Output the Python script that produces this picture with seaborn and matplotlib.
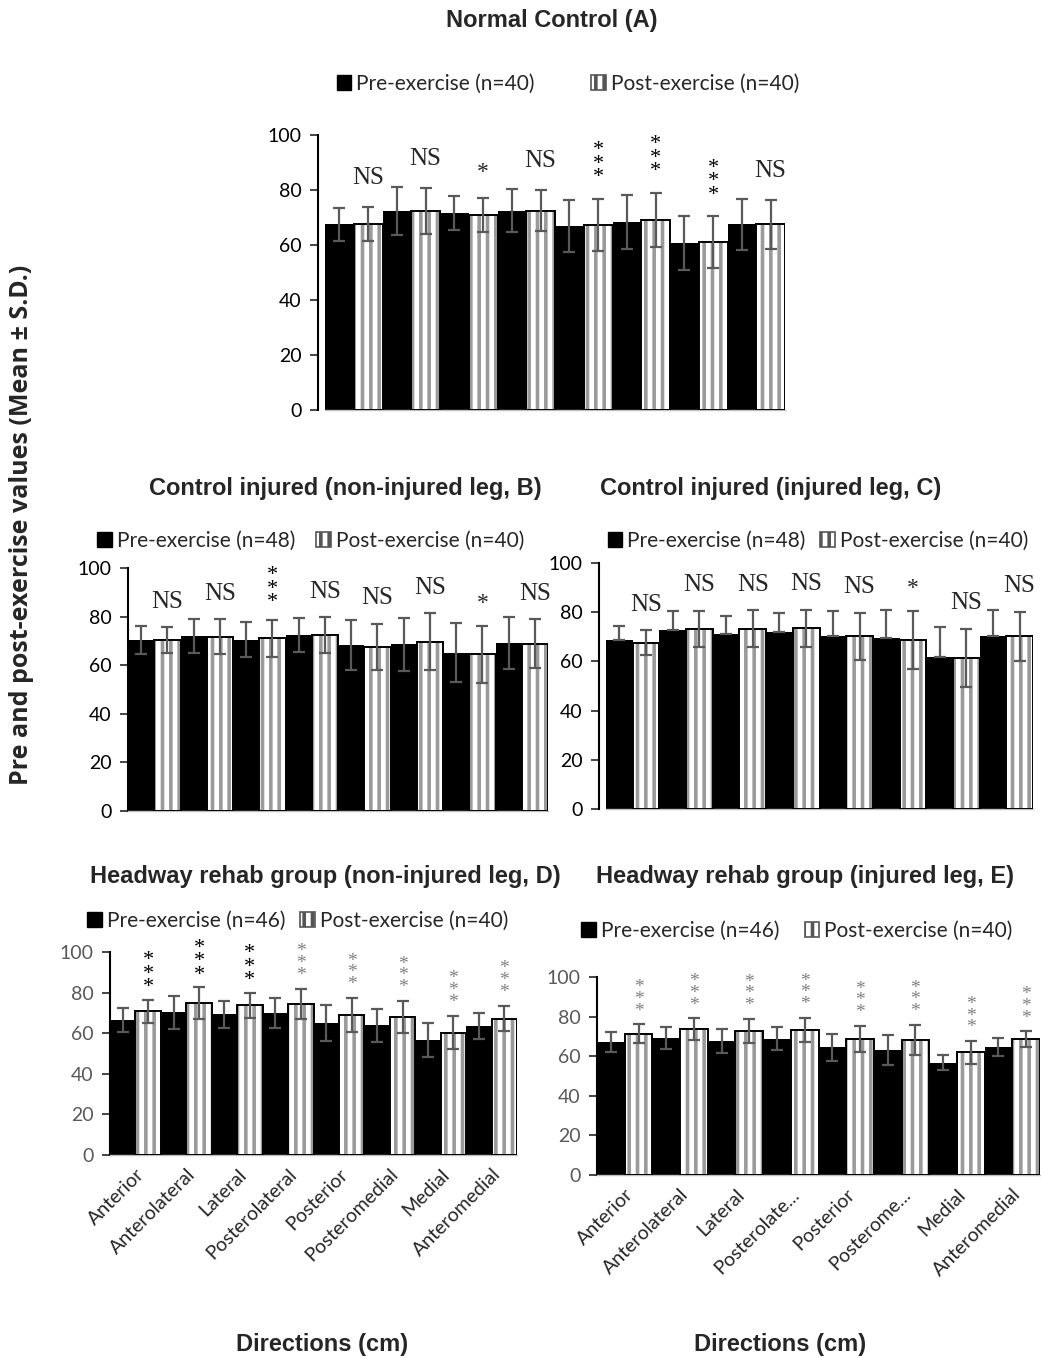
import numpy as np
import pandas as pd
import matplotlib
matplotlib.use("Agg")
import matplotlib.pyplot as plt
from matplotlib.patches import Rectangle, Patch
import seaborn as sns

sns.set_style("white")
plt.rcParams['font.family'] = ['Lato', 'DejaVu Sans']
plt.rcParams['hatch.linewidth'] = 2.6

# directions (x categories)
directions = ["Anterior", "Anterolateral", "Lateral", "Posterolateral",
              "Posterior", "Posteromedial", "Medial", "Anteromedial"]
directions_short = ["Anterior", "Anterolateral", "Lateral", "Posterolate...",
                    "Posterior", "Posterome...", "Medial", "Anteromedial"]

# Panel A - Normal control
a_pre = [67.5, 72.4, 71.5, 72.5, 66.8, 68.5, 60.8, 67.5]
a_pre_sd = [6.0, 8.8, 6.2, 7.7, 9.5, 9.8, 9.8, 9.2]
a_post = [67.5, 72.4, 71.0, 72.5, 67.3, 69.2, 61.1, 67.5]
a_post_sd = [6.2, 8.5, 6.2, 7.5, 9.6, 9.8, 9.4, 8.8]
a_sig = ["NS", "NS", "*", "NS", "***", "***", "***", "NS"]

# Panel B - control injured, non-injured leg
b_pre = [70.4, 72.1, 70.4, 72.4, 68.2, 68.6, 65.2, 69.1]
b_pre_sd = [5.8, 6.9, 7.2, 7.0, 10.2, 11.0, 12.0, 10.6]
b_post = [70.4, 71.8, 71.1, 72.4, 67.5, 69.6, 64.5, 68.9]
b_post_sd = [5.3, 7.2, 7.6, 7.4, 9.6, 11.7, 11.7, 10.0]
b_sig = ["NS", "NS", "***", "NS", "NS", "NS", "*", "NS"]

# Panel C - control injured, injured leg (pre: upper SD only)
c_pre = [68.8, 72.9, 71.3, 72.0, 70.2, 69.5, 61.8, 70.2]
c_pre_sd = [5.7, 7.5, 7.3, 7.5, 10.4, 11.2, 12.2, 10.8]
c_post = [67.5, 73.2, 73.2, 73.4, 70.2, 68.8, 61.4, 70.2]
c_post_sd = [5.1, 7.2, 7.5, 7.4, 9.5, 11.7, 11.7, 10.0]
c_sig = ["NS", "NS", "NS", "NS", "NS", "*", "NS", "NS"]

# Panel D - Headway rehab, non-injured leg
d_pre = [66.4, 70.2, 69.3, 70.0, 65.2, 63.9, 56.6, 63.4]
d_pre_sd = [6.0, 8.2, 6.6, 7.5, 8.8, 8.0, 8.4, 6.4]
d_post = [70.8, 74.9, 73.8, 74.4, 68.9, 67.9, 60.2, 67.2]
d_post_sd = [5.8, 7.8, 6.2, 7.5, 8.3, 7.8, 8.2, 6.3]
d_sig = ["***"] * 8

# Panel E - Headway rehab, injured leg
e_pre = [67.2, 69.2, 67.7, 68.9, 64.4, 63.0, 56.8, 64.7]
e_pre_sd = [5.2, 5.7, 6.1, 6.0, 6.6, 7.6, 3.8, 4.4]
e_post = [71.4, 73.6, 72.9, 73.4, 68.7, 68.2, 62.0, 68.7]
e_post_sd = [4.8, 5.5, 6.1, 6.1, 6.7, 7.7, 5.8, 4.0]
e_sig = ["***"] * 8

W, H = 1041, 1358
fig = plt.figure(figsize=(W / 100, H / 100), dpi=100)


def px_axes(x0, y0, x1, y1):
    return fig.add_axes([x0 / W, 1 - y1 / H, (x1 - x0) / W, (y1 - y0) / H])


def draw_panel(ax, pre, pre_sd, post, post_sd, sig, labels=None,
               pre_upper_only=False, star_colors=None, tick_color="black"):
    df = pd.DataFrame({
        "direction": directions * 2,
        "value": pre + post,
        "phase": ["Pre"] * 8 + ["Post"] * 8,
    })
    sns.barplot(data=df, x="direction", y="value", hue="phase",
                palette={"Pre": "black", "Post": "white"}, width=1.0, gap=0,
                errorbar=None, legend=False, ax=ax, linewidth=0)
    pre_bars, post_bars = ax.containers[0], ax.containers[1]
    for p in post_bars:
        p.set_hatch("||")
        p.set_edgecolor("#9a9a9a")
        p.set_linewidth(0)
        ax.add_patch(Rectangle((p.get_x(), p.get_y()), p.get_width(), p.get_height(),
                               fill=False, edgecolor="black", lw=1.4, zorder=3))
    xs_pre = [p.get_x() + p.get_width() / 2 for p in pre_bars]
    xs_post = [p.get_x() + p.get_width() / 2 for p in post_bars]
    lower = np.zeros(8) if pre_upper_only else np.array(pre_sd)
    ax.errorbar(xs_pre, pre, yerr=[lower, np.array(pre_sd)], fmt="none",
                ecolor="#595959", elinewidth=1.6, capsize=4.5, capthick=1.6, zorder=4)
    ax.errorbar(xs_post, post, yerr=post_sd, fmt="none",
                ecolor="#595959", elinewidth=1.6, capsize=4.5, capthick=1.6, zorder=4)
    for i, (x, v, s, t) in enumerate(zip(xs_post, post, post_sd, sig)):
        top = v + s
        col = "black" if star_colors is None else star_colors[i]
        if t == "NS":
            ax.text(x, top + 10.5, "NS", ha="center", va="center", fontsize=18,
                    family="Liberation Serif", clip_on=False)
        elif t == "*":
            ax.text(x, top + 9, "*", ha="center", va="center", fontsize=17,
                    family="Liberation Serif", clip_on=False)
        else:
            fs = 16 if col == "black" else 14
            ax.text(x, top + 12.5, "*\n*\n*", ha="center", va="center", fontsize=fs,
                    linespacing=0.6, color=col, family="Liberation Serif", clip_on=False)
    ax.set_ylim(0, 100)
    ax.set_yticks(range(0, 101, 20))
    ax.set_xlim(-0.5, 7.5)
    ax.set_ylabel("")
    ax.set_xlabel("")
    for sp in ["top", "right"]:
        ax.spines[sp].set_visible(False)
    ax.spines["left"].set_color("black")
    ax.spines["left"].set_linewidth(1.5)
    ax.spines["bottom"].set_color("#bfbfbf")
    ax.spines["bottom"].set_linewidth(1.0)
    ax.tick_params(axis="y", left=True, length=6, width=1.2, labelsize=14,
                   labelcolor=tick_color, pad=6)
    if labels is None:
        ax.set_xticks([])
    else:
        ax.set_xticks(range(8))
        ax.set_xticklabels(labels, rotation=45, ha="right", rotation_mode="anchor",
                           fontsize=14)
        ax.tick_params(axis="x", bottom=False, pad=4)


def add_legend(ax, pre_n, post_n, xc, y, spacing=1.2):
    handles = [Patch(facecolor="black", edgecolor="black"),
               Patch(facecolor="white", edgecolor="#555555", hatch="||", lw=1.2)]
    ax.legend(handles, [f"Pre-exercise (n={pre_n})", f"Post-exercise (n={post_n})"],
              loc="center", bbox_to_anchor=(xc / W, 1 - y / H),
              bbox_transform=fig.transFigure, ncol=2, frameon=False,
              fontsize=15, handlelength=0.7, handleheight=0.7,
              handletextpad=0.25, columnspacing=spacing)


def title(x, y, s):
    fig.text(x / W, 1 - y / H, s, ha="center", va="center", fontsize=17,
             fontweight="bold", family="Liberation Sans")


# Panel A
axA = px_axes(325, 135, 785, 410)
draw_panel(axA, a_pre, a_pre_sd, a_post, a_post_sd, a_sig)
axA.spines["left"].set_position(("outward", 5))
add_legend(axA, 40, 40, 568, 84, spacing=2.7)
title(552, 20, "Normal Control (A)")

# Panel B
axB = px_axes(128, 568, 548, 811)
draw_panel(axB, b_pre, b_pre_sd, b_post, b_post_sd, b_sig)
add_legend(axB, 48, 40, 311, 541, spacing=1.0)
title(345, 488, "Control injured (non-injured leg, B)")

# Panel C
axC = px_axes(606, 563, 1033, 809)
draw_panel(axC, c_pre, c_pre_sd, c_post, c_post_sd, c_sig, pre_upper_only=True)
axC.spines["left"].set_position(("outward", 5))
add_legend(axC, 48, 40, 818, 541, spacing=0.7)
title(771, 488, "Control injured (injured leg, C)")

# Panel D
d_colors = ["black"] * 3 + ["#7f7f7f"] * 5
axD = px_axes(110, 952, 517, 1155)
draw_panel(axD, d_pre, d_pre_sd, d_post, d_post_sd, d_sig, labels=directions,
           star_colors=d_colors, tick_color="#595959")
add_legend(axD, 46, 40, 298, 921, spacing=0.7)
title(325, 877, "Headway rehab group (non-injured leg, D)")

# Panel E
axE = px_axes(597, 977, 1040, 1175)
draw_panel(axE, e_pre, e_pre_sd, e_post, e_post_sd, e_sig, labels=directions_short,
           star_colors=["#7f7f7f"] * 8, tick_color="#595959")
add_legend(axE, 46, 40, 797, 931, spacing=1.2)
title(805, 877, "Headway rehab group (injured leg, E)")

# shared labels
fig.text(22 / W, 1 - 525 / H, "Pre and post-exercise values (Mean ± S.D.)",
         rotation=90, ha="center", va="center", fontsize=18, fontweight="bold",
         family=["Open Sans", "DejaVu Sans"])
for xc in (322, 780):
    fig.text(xc / W, 1 - 1345 / H, "Directions (cm)", ha="center", va="center",
             fontsize=17, fontweight="bold", family="Liberation Sans")

fig.savefig("out.png", dpi=100)
